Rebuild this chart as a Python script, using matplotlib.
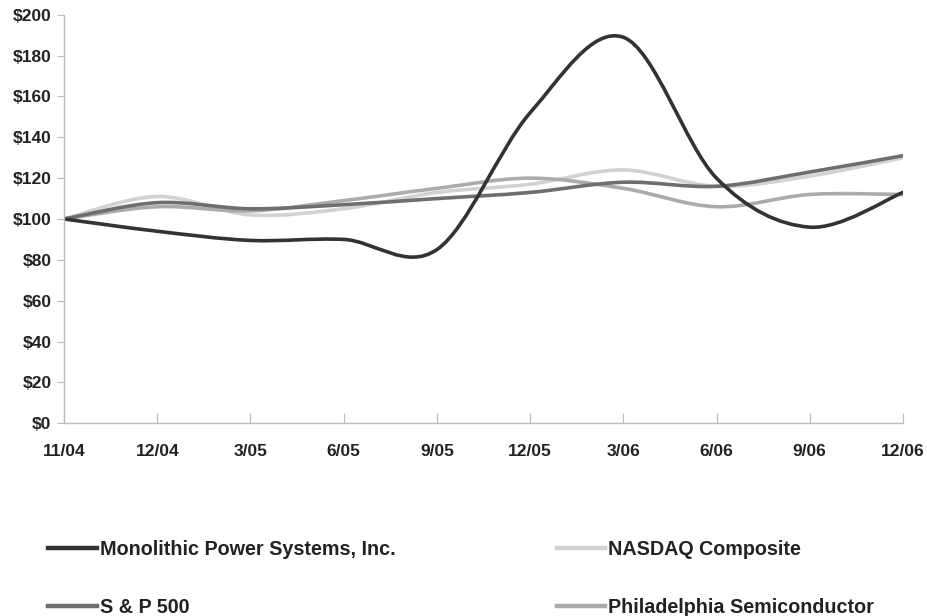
import matplotlib
matplotlib.use("Agg")
import matplotlib.pyplot as plt
from matplotlib.path import Path
from matplotlib.patches import PathPatch
from matplotlib.lines import Line2D

plt.rcParams['font.family'] = ['Liberation Sans', 'DejaVu Sans']

# cumulative total return, $100 invested 11/04
periods = ['11/04', '12/04', '3/05', '6/05', '9/05', '12/05', '3/06', '6/06', '9/06', '12/06']
mps = [100, 94, 89.5, 90, 85, 152, 189, 120, 96, 113]
nasdaq = [100, 111, 102, 105, 113, 117, 124, 116, 121, 130]
sp500 = [100, 108, 105, 107, 110, 113, 118, 116, 123, 131]
phlx = [100, 106, 104, 109, 115, 120, 115, 106, 112, 112]

series = [
    ('Monolithic Power Systems, Inc.', mps, '#333333'),
    ('S & P 500', sp500, '#6e6e6e'),
    ('NASDAQ Composite', nasdaq, '#d2d2d2'),
    ('Philadelphia Semiconductor', phlx, '#ababab'),
]


def smooth_path(xs, ys):
    # excel-style smoothed line: cubic bezier through every point
    verts = [(xs[0], ys[0])]
    codes = [Path.MOVETO]
    n = len(xs)
    for i in range(n - 1):
        x0, y0 = xs[max(i - 1, 0)], ys[max(i - 1, 0)]
        x1, y1 = xs[i], ys[i]
        x2, y2 = xs[i + 1], ys[i + 1]
        x3, y3 = xs[min(i + 2, n - 1)], ys[min(i + 2, n - 1)]
        c1 = (x1 + (x2 - x0) / 6, y1 + (y2 - y0) / 6)
        c2 = (x2 - (x3 - x1) / 6, y2 - (y3 - y1) / 6)
        verts += [c1, c2, (x2, y2)]
        codes += [Path.CURVE4] * 3
    return Path(verts, codes)


fig = plt.figure(figsize=(9.28, 6.16), dpi=100)
ax = fig.add_axes([0.069, 0.313, 0.904, 0.663])

xs = list(range(len(periods)))
# draw lightest first so the dark lines sit on top
for label, vals, color in [series[2], series[3], series[1], series[0]]:
    ax.add_patch(PathPatch(smooth_path(xs, vals), fill=False, edgecolor=color,
                           lw=2.6, capstyle='round', joinstyle='round'))

ax.set_xlim(0, len(periods) - 1)
ax.set_ylim(0, 200)
ax.set_yticks(range(0, 201, 20))
ax.set_yticklabels(['$%d' % v for v in range(0, 201, 20)])
ax.set_xticks(xs)
ax.set_xticklabels(periods)

for s in ['top', 'right']:
    ax.spines[s].set_visible(False)
for s in ['left', 'bottom']:
    ax.spines[s].set_color('#bbbbbb')
    ax.spines[s].set_linewidth(1)

ax.tick_params(axis='y', direction='out', length=5, color='#bbbbbb', pad=4,
               labelsize=12.5, labelcolor='#222222')
ax.tick_params(axis='x', direction='in', length=7, color='#bbbbbb', pad=15,
               labelsize=12.5, labelcolor='#222222')
for t in ax.get_xticklabels() + ax.get_yticklabels():
    t.set_fontweight('bold')

handles = [Line2D([], [], color=c, lw=3.2) for _, _, c in series]
labels = [l for l, _, _ in series]
fig.legend(handles, labels, ncol=2, loc='upper left', bbox_to_anchor=(0.052, 0.123),
           frameon=False, borderpad=0, borderaxespad=0, handlelength=2.45,
           handletextpad=0.15, columnspacing=8.2, labelspacing=1.95,
           prop={'weight': 'bold', 'size': 14.2})
for t in fig.legends[0].get_texts():
    t.set_color('#222222')

fig.savefig('out.png', dpi=100, facecolor='white')
